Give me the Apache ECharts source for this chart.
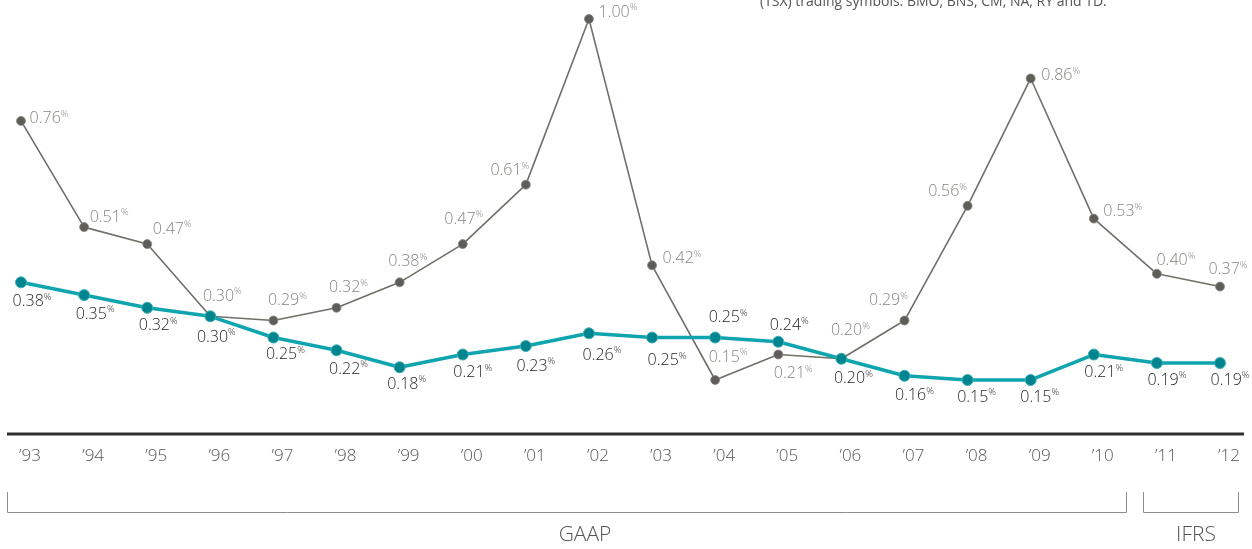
<!DOCTYPE html>
<html>
<head>
<meta charset="utf-8">
<style>
  html, body { margin: 0; padding: 0; background: #ffffff; }
  #chart { width: 1252px; height: 549px; }
</style>
<script src="https://cdn.jsdelivr.net/npm/echarts@6/dist/echarts.min.js"></script>
</head>
<body>
<div id="chart"></div>
<script>
// Fiscal years on the x axis
const years = ['\u201993', '\u201994', '\u201995', '\u201996', '\u201997', '\u201998', '\u201999', '\u201900', '\u201901', '\u201902',
               '\u201903', '\u201904', '\u201905', '\u201906', '\u201907', '\u201908', '\u201909', '\u201910', '\u201911', '\u201912'];

// Peer group average (grey line), in %
const peerValues = [0.76, 0.51, 0.47, 0.30, 0.29, 0.32, 0.38, 0.47, 0.61, 1.00,
                    0.42, 0.15, 0.21, 0.20, 0.29, 0.56, 0.86, 0.53, 0.40, 0.37];

// Bank (teal line), in %
const bankValues = [0.38, 0.35, 0.32, 0.30, 0.25, 0.22, 0.18, 0.21, 0.23, 0.26,
                    0.25, 0.25, 0.24, 0.20, 0.16, 0.15, 0.15, 0.21, 0.19, 0.19];

// Label placement (offset of the label centre from its point)
const peerLabelOffsets = [[28,-2],[25,-10],[25,-15],[12,-20],[14,-20],[12,-20],[8,-21],[1,-25],[-16,-14],[29,-7],
                          [30,-7],[13,-23],[15,19],[9,-28],[-16,-20],[-20,-14],[30,-3],[29,-7],[19,-13],[8,-17]];
const bankLabelOffsets = [[11,19],[11,19],[11,18],[6,21],[12,17],[12,19],[7,17],[10,18],[10,20],[13,22],
                          [15,23],[13,-20],[11,-16],[12,20],[10,20],[9,17],[9,17],[10,18],[10,17],[10,17]];

const FONT = '"Open Sans", "Noto Sans", sans-serif';

function labelRich(color) {
  return {
    v: { fontFamily: FONT, fontWeight: 300, fontSize: 16, color: color, lineHeight: 19 },
    p: { fontFamily: FONT, fontWeight: 300, fontSize: 9.5, color: color, lineHeight: 10, verticalAlign: 'top' }
  };
}

function buildPoints(values, offsets, color) {
  return values.map((v, i) => ({
    value: v,
    label: {
      show: true,
      position: 'inside',
      offset: offsets[i],
      formatter: '{v|' + v.toFixed(2) + '}{p|%}',
      rich: labelRich(color)
    }
  }));
}

const chart = echarts.init(document.getElementById('chart'), null, { renderer: 'canvas' });

const axisY = 434;

chart.setOption({
  animation: false,
  backgroundColor: '#ffffff',
  grid: { left: 21, right: 32, top: 19, bottom: 105.3, containLabel: false },
  xAxis: {
    type: 'category',
    data: years,
    boundaryGap: false,
    axisLine: { show: false },
    axisTick: { show: false },
    axisLabel: {
      margin: 4,
      fontFamily: FONT,
      fontWeight: 300,
      fontSize: 17,
      color: '#555555',
      padding: [0, 0, 0, 18]
    },
    splitLine: { show: false }
  },
  yAxis: {
    type: 'value',
    min: 0,
    max: 1,
    show: false,
    splitLine: { show: false }
  },
  series: [
    {
      name: 'Peer group',
      type: 'line',
      z: 2,
      data: buildPoints(peerValues, peerLabelOffsets, '#85847f'),
      symbol: 'circle',
      symbolSize: 9,
      lineStyle: { color: '#716f68', width: 1.6 },
      itemStyle: { color: '#5e5d57', borderColor: '#8a8983', borderWidth: 0.8 }
    },
    {
      name: 'Bank',
      type: 'line',
      z: 3,
      data: buildPoints(bankValues, bankLabelOffsets, '#262626'),
      symbol: 'circle',
      symbolSize: 11,
      lineStyle: { color: '#0fa5ae', width: 3.5 },
      itemStyle: { color: '#00848d', borderColor: '#3fb0b7', borderWidth: 1 }
    }
  ],
  graphic: [
    // baseline
    { type: 'line', shape: { x1: 7, y1: axisY, x2: 1244, y2: axisY }, style: { stroke: '#2f2f2f', lineWidth: 3 } },
    // GAAP bracket
    { type: 'polyline', shape: { points: [[7.5, 492], [7.5, 512.5], [1126.5, 512.5], [1126.5, 492]] },
      style: { stroke: '#8c8c8c', lineWidth: 1, fill: null } },
    // IFRS bracket
    { type: 'polyline', shape: { points: [[1143.5, 492], [1143.5, 512.5], [1238.5, 512.5], [1238.5, 492]] },
      style: { stroke: '#8c8c8c', lineWidth: 1, fill: null } },
    { type: 'text', x: 585, y: 535, style: { text: 'GAAP', fontFamily: FONT, fontWeight: 300, fontSize: 21,
      fill: '#555555', align: 'center', verticalAlign: 'middle' } },
    { type: 'text', x: 1196, y: 535, style: { text: 'IFRS', fontFamily: FONT, fontWeight: 300, fontSize: 21,
      fill: '#555555', align: 'center', verticalAlign: 'middle' } },
    // note text running off the top edge
    { type: 'text', x: 760, y: 2, style: { text: '(TSX) trading symbols: BMO, BNS, CM, NA, RY and TD.',
      fontFamily: FONT, fontWeight: 400, fontSize: 14, fill: '#555555', align: 'left', verticalAlign: 'middle' } }
  ]
});
</script>
</body>
</html>
